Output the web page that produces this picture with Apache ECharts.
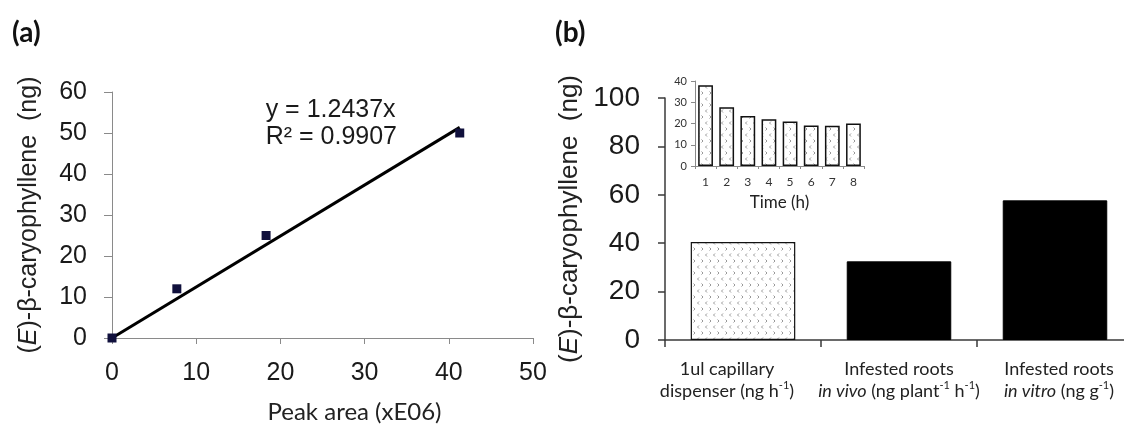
<!DOCTYPE html>
<html>
<head>
<meta charset="utf-8">
<script src="https://cdn.jsdelivr.net/npm/echarts@6.0.0/dist/echarts.min.js"></script>
<style>
  html, body { margin: 0; padding: 0; background: #fff; }
  #chart { width: 1124px; height: 425px; }
</style>
</head>
<body>
<div id="chart"></div>
<script>
// (a) calibration: peak area vs. amount injected
const peakArea = [0, 7.7, 18.3, 41.3];
const caryophylleneNg = [0, 12, 25, 50];
const fitSlope = 1.2437;
const fitR2 = '0.9907';
const calibXTicks = { min: 0, max: 50, interval: 10 };
const calibYTicks = { min: 0, max: 60, interval: 10 };

// (b) release rates from the three sources
const sourceLabels = [
  '1ul capillary\ndispenser (ng h{sup|-1})',
  'Infested roots\n{it|in vivo} (ng plant{sup|-1} h{sup|-1})',
  'Infested roots\n{it|in vitro} (ng g{sup|-1})'
];
const sourceValues = [40.5, 32.5, 57.7];
const sourceYTicks = { min: 0, max: 100, interval: 20 };

// inset: hourly release from the capillary dispenser
const hours = ['1', '2', '3', '4', '5', '6', '7', '8'];
const hourlyRelease = [38, 27.6, 23.5, 22, 21, 19.1, 19, 20];
const hourlyYTicks = { min: 0, max: 40, interval: 10 };

const ARIAL = '"Liberation Sans", Arial, sans-serif';
const SANS = 'Lato, "Open Sans", sans-serif';

// small chevron fill used for the dispenser bars
function chevronFill() {
  const c = document.createElement('canvas');
  c.width = 8; c.height = 12;
  const g = c.getContext('2d');
  g.fillStyle = '#ffffff';
  g.fillRect(0, 0, c.width, c.height);
  g.strokeStyle = '#8c8c8c';
  g.lineWidth = 0.9;
  g.beginPath();
  g.moveTo(3, 1.5); g.lineTo(1.5, 3); g.lineTo(3, 4.5);
  g.moveTo(5.5, 7.5); g.lineTo(7, 9); g.lineTo(5.5, 10.5);
  g.stroke();
  return c;
}
const chevron = { image: chevronFill(), repeat: 'repeat' };

const fitEnd = Math.max(...peakArea);
const fitLine = [[0, 0], [fitEnd, fitSlope * fitEnd]];

const labelNudge = [[0, 32, 0, 0], [0, 0, 0, 0], [0, 0, 0, 8]];
const catRich = {
  sup: { fontFamily: SANS, fontSize: 11, color: '#222', verticalAlign: 'top', lineHeight: 22 },
  it: { fontFamily: SANS, fontSize: 18, color: '#222', fontStyle: 'italic' }
};

const chart = echarts.init(document.getElementById('chart'), null, { renderer: 'canvas' });

const option = {
  animation: false,
  backgroundColor: '#ffffff',
  grid: [
    { left: 112, top: 92, width: 421, height: 246, outerBoundsMode: 'none', containLabel: false },
    { left: 665, top: 98, width: 468, height: 242, outerBoundsMode: 'none', containLabel: false },
    { left: 695, top: 81, width: 169, height: 85, outerBoundsMode: 'none', containLabel: false }
  ],
  xAxis: [
    {
      gridIndex: 0, type: 'value', ...calibXTicks,
      splitLine: { show: false },
      axisLine: { lineStyle: { color: '#8a8a8a', width: 1 } },
      axisTick: { show: true, length: 6, lineStyle: { color: '#8a8a8a' } },
      axisLabel: { fontFamily: ARIAL, fontSize: 25, color: '#1a1a1a', margin: 23 },
      name: 'Peak area (xE06)', nameLocation: 'middle', nameGap: 62,
      nameTextStyle: { fontFamily: SANS, fontSize: 24, color: '#222', padding: [0, 0, 0, 64] }
    },
    {
      gridIndex: 1, type: 'category',
      data: sourceLabels.map((t, i) => ({ value: t, textStyle: { padding: labelNudge[i] } })),
      axisLine: { lineStyle: { color: '#3a3a3a', width: 1.5 } },
      axisTick: { show: true, length: 7, lineStyle: { color: '#3a3a3a', width: 1.5 } },
      axisLabel: { fontFamily: SANS, fontSize: 18, color: '#222', margin: 18, lineHeight: 22, rich: catRich, interval: 0 }
    },
    {
      gridIndex: 2, type: 'category', data: hours,
      axisLine: { lineStyle: { color: '#8a8a8a', width: 1 } },
      axisTick: { show: true, length: 3, lineStyle: { color: '#8a8a8a' } },
      axisLabel: { fontFamily: SANS, fontSize: 12, color: '#333', margin: 10 },
      name: 'Time (h)', nameLocation: 'middle', nameGap: 28,
      nameTextStyle: { fontFamily: SANS, fontSize: 17, color: '#222' }
    }
  ],
  yAxis: [
    {
      gridIndex: 0, type: 'value', ...calibYTicks,
      splitLine: { show: false },
      axisLine: { show: true, lineStyle: { color: '#8a8a8a', width: 1 } },
      axisTick: { show: true, length: 8, lineStyle: { color: '#8a8a8a' } },
      axisLabel: { fontFamily: ARIAL, fontSize: 25, color: '#1a1a1a', margin: 25 },
      name: '({i|E})-β-caryophyllene  (ng)', nameLocation: 'middle', nameRotate: 90, nameGap: 70,
      nameTextStyle: {
        fontFamily: ARIAL, fontSize: 25, color: '#222',
        rich: { i: { fontFamily: ARIAL, fontSize: 25, color: '#222', fontStyle: 'italic' } }
      }
    },
    {
      gridIndex: 1, type: 'value', ...sourceYTicks,
      splitLine: { show: false },
      axisLine: { show: true, lineStyle: { color: '#3a3a3a', width: 1.5 } },
      axisTick: { show: true, length: 7, lineStyle: { color: '#3a3a3a', width: 1.5 } },
      axisLabel: { fontFamily: ARIAL, fontSize: 28, color: '#1a1a1a', margin: 25 },
      name: '({i|E})-β-caryophyllene  (ng)', nameLocation: 'middle', nameRotate: 90, nameGap: 82,
      nameTextStyle: {
        fontFamily: ARIAL, fontSize: 26, color: '#222',
        rich: { i: { fontFamily: ARIAL, fontSize: 26, color: '#222', fontStyle: 'italic' } }
      }
    },
    {
      gridIndex: 2, type: 'value', ...hourlyYTicks,
      splitLine: { show: false },
      axisLine: { show: true, lineStyle: { color: '#8a8a8a', width: 1 } },
      axisTick: { show: true, length: 4, lineStyle: { color: '#8a8a8a' } },
      axisLabel: { fontFamily: SANS, fontSize: 11, color: '#333', margin: 8 }
    }
  ],
  series: [
    {
      type: 'line', xAxisIndex: 0, yAxisIndex: 0,
      data: fitLine, symbol: 'none', silent: true,
      lineStyle: { color: '#000', width: 3 }, z: 2
    },
    {
      type: 'scatter', xAxisIndex: 0, yAxisIndex: 0,
      data: peakArea.map((x, i) => [x, caryophylleneNg[i]]),
      symbol: 'rect', symbolSize: 9,
      itemStyle: { color: '#10103c', opacity: 1 }, z: 3
    },
    {
      type: 'bar', xAxisIndex: 1, yAxisIndex: 1,
      barCategoryGap: '33%',
      data: sourceValues.map((v, i) => ({
        value: v,
        itemStyle: i === 0
          ? { color: chevron, borderColor: '#111', borderWidth: 1.2 }
          : { color: '#000', borderColor: '#000', borderWidth: 1 }
      }))
    },
    {
      type: 'bar', xAxisIndex: 2, yAxisIndex: 2,
      barCategoryGap: '30%',
      data: hourlyRelease,
      itemStyle: { color: chevron, borderColor: '#111', borderWidth: 1.5 }
    }
  ]
};
chart.setOption(option);

// panel letters and the regression annotation, anchored in data coordinates
const eqAnchor = chart.convertToPixel({ gridIndex: 0 }, [18.25, 52.4]);
chart.setOption({
  graphic: [
    { type: 'text', left: 12, top: 19, style: { text: '(a)', font: 'bold 28px ' + SANS, fill: '#111' } },
    { type: 'text', left: 555, top: 19, style: { text: '(b)', font: 'bold 28px ' + SANS, fill: '#111' } },
    {
      type: 'text', x: eqAnchor[0], y: eqAnchor[1],
      style: {
        text: 'y = ' + fitSlope + 'x\nR² = ' + fitR2,
        font: '25px ' + ARIAL, fill: '#1a1a1a', lineHeight: 27,
        verticalAlign: 'middle', align: 'left'
      }
    }
  ]
});
</script>
</body>
</html>
